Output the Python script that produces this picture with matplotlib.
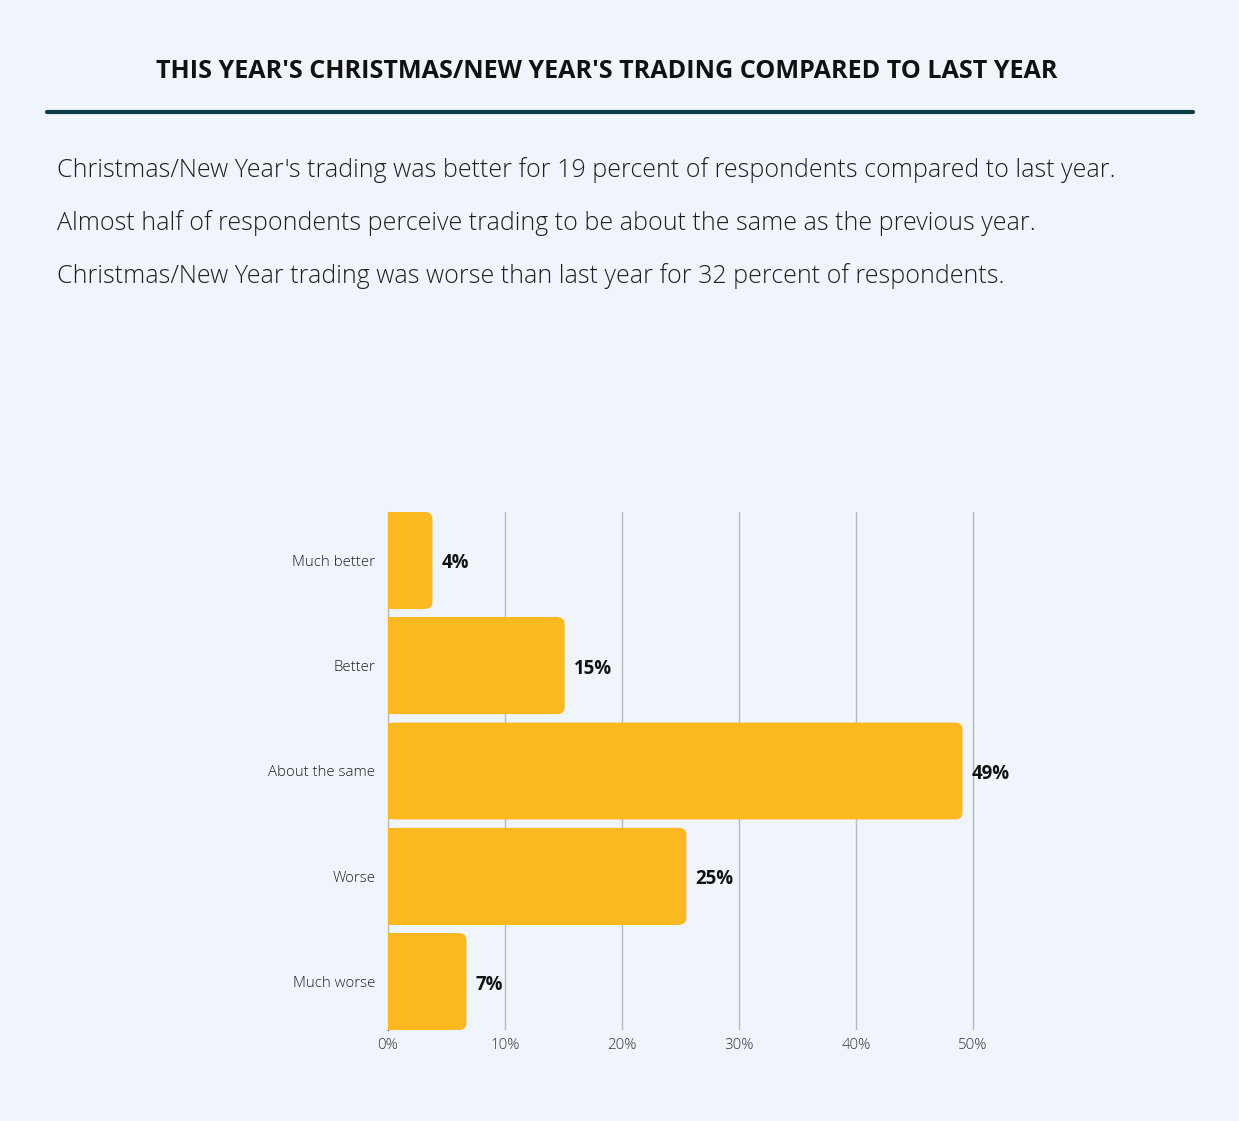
import matplotlib
matplotlib.use("Agg")
import matplotlib.pyplot as plt
from matplotlib.patches import FancyBboxPatch

categories = ["Much better", "Better", "About the same", "Worse", "Much worse"]
values = [3.8, 15.1, 49.1, 25.5, 6.7]
value_labels = ["4%", "15%", "49%", "25%", "7%"]
xticks = [0, 10, 20, 30, 40, 50]
xtick_labels = ["0%", "10%", "20%", "30%", "40%", "50%"]

title = "THIS YEAR'S CHRISTMAS/NEW YEAR'S TRADING COMPARED TO LAST YEAR"
notes = [
    "Christmas/New Year's trading was better for 19 percent of respondents compared to last year.",
    "Almost half of respondents perceive trading to be about the same as the previous year.",
    "Christmas/New Year trading was worse than last year for 32 percent of respondents.",
]

BG = "#EFF5FB"
BAR = "#FBB921"
FONT = "Open Sans"

W, H = 1239, 1121
fig = plt.figure(figsize=(W / 100, H / 100), dpi=100)
fig.patch.set_facecolor(BG)

# title
fig.text(607 / W, 1 - 72 / H, title, ha="center", va="center", fontsize=18.05,
         fontweight="bold", family=FONT, color="#111111")
# rule line
fig.add_artist(plt.Line2D([47 / W, 1193 / W], [1 - 112 / H, 1 - 112 / H],
                          color="#0B3F47", lw=3, solid_capstyle="round"))
# notes
for i, t in enumerate(notes):
    fig.text(57 / W, 1 - (170 + 53 * i) / H, t, ha="left", va="center",
             fontsize=18.0, fontweight="light", family=FONT, color="#1E1E1E")

# axes
x0, x1 = 388, 388 + 55 * 11.7
y_top, y_bot = 512, 1030
ax = fig.add_axes([x0 / W, 1 - y_bot / H, (x1 - x0) / W, (y_bot - y_top) / H])
ax.set_facecolor(BG)
n = len(categories)
bh = 0.92
ax.set_xlim(0, 55)
ax.set_ylim(n - 1 + bh / 2, -bh / 2)

px_x = (x1 - x0) / 55.0
px_y = (y_bot - y_top) / (n - 1 + bh)
r_px = 7
r = r_px / px_x
aspect = px_x / px_y
for i, v in enumerate(values):
    ax.barh(i, v - r, height=bh, color=BAR, zorder=3, linewidth=0)
    p = FancyBboxPatch((0, i - bh / 2), v, bh,
                       boxstyle=f"round,pad=0,rounding_size={r}",
                       mutation_aspect=aspect, facecolor=BAR, edgecolor="none", zorder=3)
    ax.add_patch(p)
    off = 9 / px_x
    ax.text(v + off, i + 3 / px_y, value_labels[i], ha="left", va="center",
            fontsize=13.4, fontweight="bold", family=FONT, color="#111111", zorder=4)

ax.set_yticks(range(n))
ax.set_yticklabels(categories, family=FONT, fontsize=10.8, fontweight="light",
                   color="#222222")
ax.set_xticks(xticks)
ax.set_xticklabels(xtick_labels, family=FONT, fontsize=10.8, fontweight="light",
                   color="#333333")
ax.tick_params(axis="both", length=0, pad=9)
ax.tick_params(axis="x", pad=6)
ax.grid(axis="x", color="#B5B9BE", lw=1, zorder=0)
for s in ["top", "right", "bottom"]:
    ax.spines[s].set_visible(False)
ax.spines["left"].set_color("#333333")
ax.spines["left"].set_linewidth(0.8)
ax.spines["left"].set_zorder(1)

fig.savefig("out.png", dpi=100, facecolor=BG)
